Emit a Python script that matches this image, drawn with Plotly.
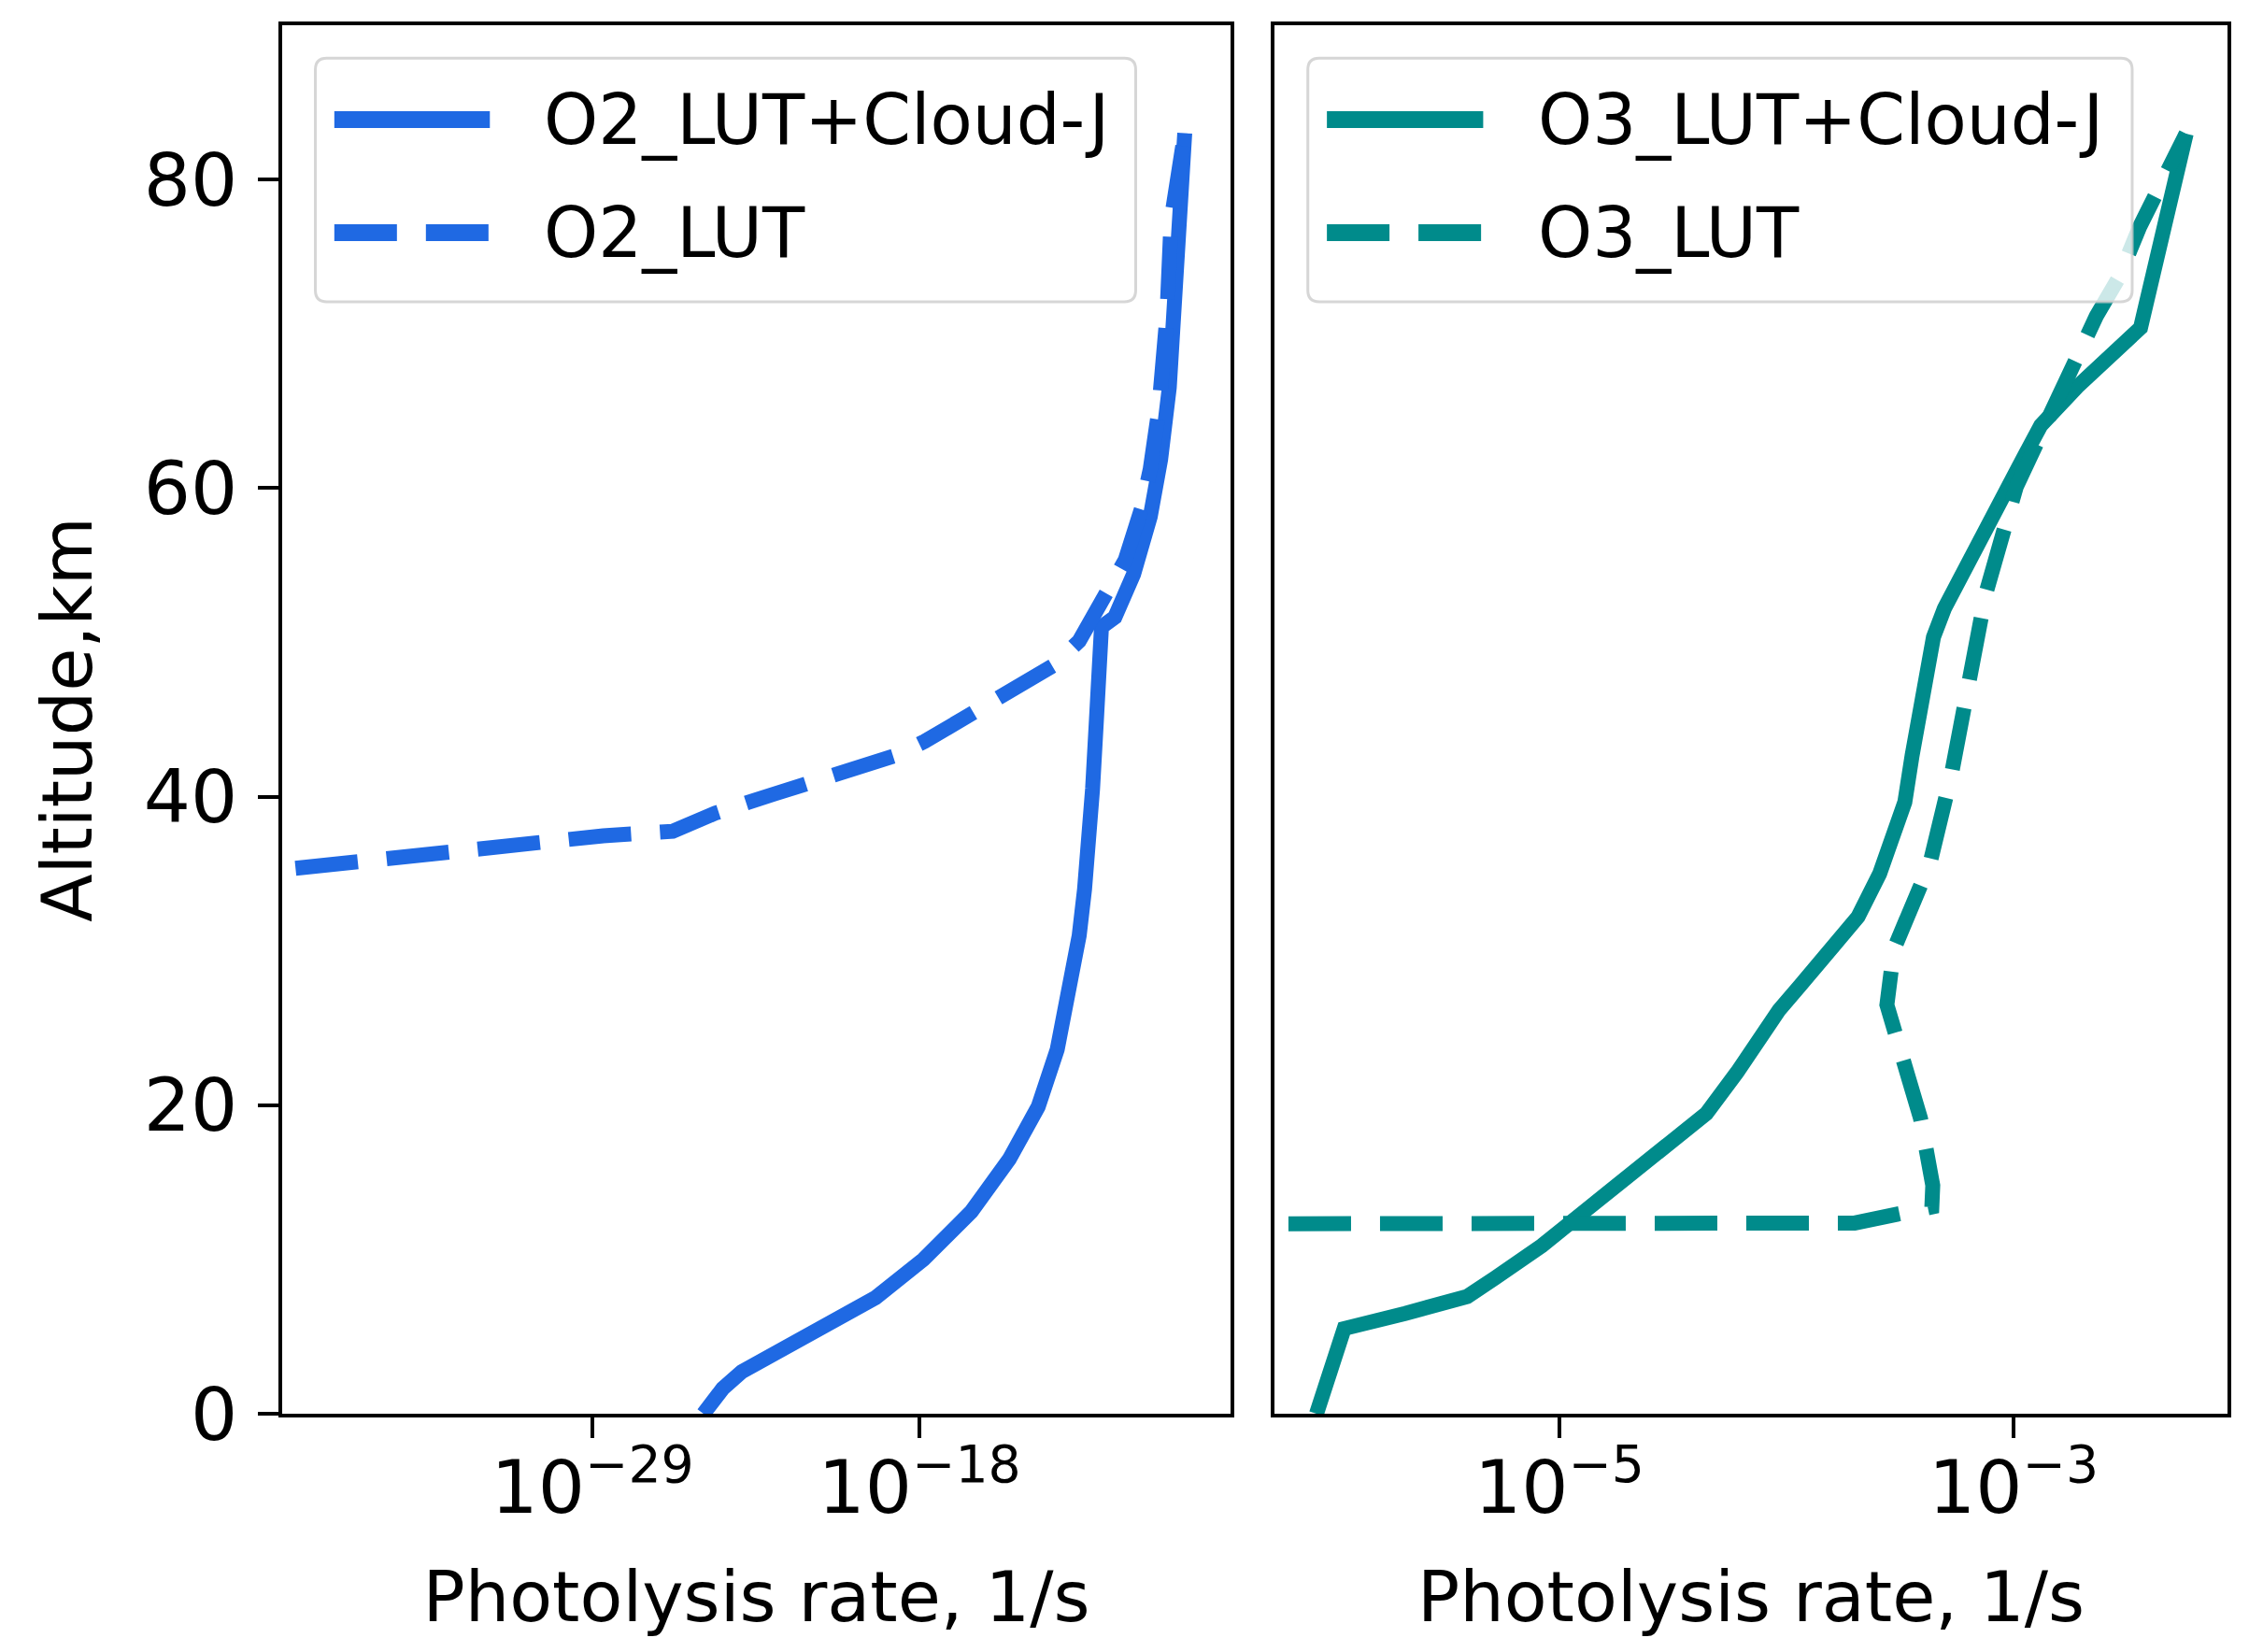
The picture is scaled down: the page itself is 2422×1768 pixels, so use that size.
import plotly.graph_objects as go

# O2 panel (log10 of rate, altitude in km)
o2_cloudj_log = [-25.27, -24.95, -24.62, -23.98, -22.69, -21.08, -19.48, -17.87, -16.26,
                 -14.98, -14.01, -13.37, -12.89, -12.63, -12.45, -12.30, -12.18, -12.05,
                 -11.88, -11.43, -10.80, -10.24, -9.89, -9.60, -9.39, -9.25, -9.08]
o2_cloudj_alt = [0.0, 0.9, 1.63, 2.72, 4.1, 5.66, 7.52, 10.0, 13.1,
                 16.5, 19.9, 23.6, 28.3, 31.0, 34.0, 37.0, 40.5, 45.0,
                 51.0, 51.63, 54.42, 58.14, 61.86, 66.51, 72.08, 77.35, 83.0]

o2_lut_log = [-38.99, -38.04, -34.79, -31.71, -28.64, -26.3, -24.87, -22.89, -20.92,
              -18.82, -17.83, -16.14, -15.02, -13.47, -12.63, -11.64, -11.08, -10.52,
              -10.24, -9.96, -9.68, -9.54, -9.08]
o2_lut_alt = [35.35, 35.55, 36.24, 36.77, 37.46, 37.75, 38.93, 40.17, 41.41,
              42.65, 43.58, 45.44, 46.68, 48.53, 50.09, 53.18, 55.35, 58.76,
              61.24, 64.95, 71.15, 77.35, 83.0]

# O3 panel
o3_cloudj_log = [-6.07, -5.948, -5.68, -5.406, -5.283, -5.077, -4.90, -4.596, -4.353,
                 -4.218, -4.033, -3.938, -3.811, -3.685, -3.590, -3.527, -3.479, -3.447,
                 -3.416, -3.384, -3.353, -3.305, -3.210, -3.084, -2.957, -2.880, -2.720,
                 -2.441, -2.240]
o3_cloudj_alt = [0.0, 5.52, 6.5, 7.6, 8.8, 10.9, 13.0, 16.47, 19.46,
                 22.13, 26.16, 27.79, 29.88, 32.21, 35.0, 37.32, 39.64, 42.66,
                 45.69, 48.01, 50.33, 52.19, 54.98, 58.47, 61.95, 64.07, 66.56,
                 70.39, 82.97]

o3_lut_log = [-7.0, -3.70, -3.36, -3.356, -3.41, -3.49, -3.558, -3.527, -3.368,
              -3.273, -3.202, -3.123, -2.988, -2.862, -2.749, -2.636, -2.537, -2.443,
              -2.240]
o3_lut_alt = [12.3, 12.36, 13.4, 14.8, 19.15, 23.6, 26.5, 30.12, 35.69,
              41.5, 47.54, 53.12, 60.09, 64.07, 67.81, 71.13, 73.63, 76.99,
              82.97]

yticks = [0, 20, 40, 60, 80]
o2_xticks = [1e-29, 1e-18]
o2_xticktext = ["10<sup>\u221229</sup>", "10<sup>\u221218</sup>"]
o3_xticks = [1e-5, 1e-3]
o3_xticktext = ["10<sup>\u22125</sup>", "10<sup>\u22123</sup>"]

BLUE = "#1f69e3"
TEAL = "#008b8b"
LW = 16
DASH = "67px,31px"
FONT = "DejaVu Sans"
TICK_FS = 79
TITLE_FS = 75
LEG_FS = 74


def rates(logs):
    return [10.0 ** v for v in logs]


fig = go.Figure()
fig.add_trace(go.Scatter(x=rates(o2_cloudj_log), y=o2_cloudj_alt, mode="lines",
                         line=dict(color=BLUE, width=LW), name="O2_LUT+Cloud-J",
                         xaxis="x", yaxis="y"))
fig.add_trace(go.Scatter(x=rates(o2_lut_log), y=o2_lut_alt, mode="lines",
                         line=dict(color=BLUE, width=LW, dash=DASH), name="O2_LUT",
                         xaxis="x", yaxis="y"))
fig.add_trace(go.Scatter(x=rates(o3_cloudj_log), y=o3_cloudj_alt, mode="lines",
                         line=dict(color=TEAL, width=LW), name="O3_LUT+Cloud-J",
                         xaxis="x2", yaxis="y2"))
fig.add_trace(go.Scatter(x=rates(o3_lut_log), y=o3_lut_alt, mode="lines",
                         line=dict(color=TEAL, width=LW, dash=DASH), name="O3_LUT",
                         xaxis="x2", yaxis="y2"))

axis_common = dict(showline=True, mirror=True, linecolor="black", linewidth=4,
                   ticklen=22, tickwidth=4, tickcolor="black",
                   showgrid=False, zeroline=False,
                   tickfont=dict(family=FONT, size=TICK_FS, color="black"))

xtitle = dict(text="Photolysis rate, 1/s", standoff=47,
              font=dict(family=FONT, size=TITLE_FS, color="black"))

# page body has an 8px margin, so the figure is a bit smaller than the window
fig.update_layout(
    width=2406, height=1752,
    margin=dict(l=294, r=30, t=19, b=247),
    paper_bgcolor="white", plot_bgcolor="white",
    showlegend=False,
    font=dict(family=FONT, size=TITLE_FS, color="black"),
    xaxis=dict(domain=[0, 0.4875], type="log", range=[-39.44, -7.54],
               tickvals=o2_xticks, ticktext=o2_xticktext, ticks="outside",
               ticklabelstandoff=-15, title=xtitle, anchor="y", **axis_common),
    xaxis2=dict(domain=[0.5101, 1], type="log", range=[-6.255, -2.058],
                tickvals=o3_xticks, ticktext=o3_xticktext, ticks="outside",
                ticklabelstandoff=-15, title=xtitle, anchor="y2", **axis_common),
    yaxis=dict(range=[0, 90], tickvals=yticks, anchor="x", ticks="outside",
               ticklabelstandoff=6,
               title=dict(text="Altitude,km", standoff=31,
                          font=dict(family=FONT, size=TITLE_FS, color="black")),
               **axis_common),
    yaxis2=dict(range=[0, 90], matches="y", anchor="x2", ticks="",
                showticklabels=False, **axis_common),
)


# matplotlib-style legend boxes (one per panel)
def legend_box(xr, yr, labels, color):
    x0, x1, y0, y1 = 0.035, 0.90, 0.8008, 0.9762
    rx, ry = 0.012, 0.0082
    path = (f"M{x0 + rx},{y0} L{x1 - rx},{y0} Q{x1},{y0} {x1},{y0 + ry} "
            f"L{x1},{y1 - ry} Q{x1},{y1} {x1 - rx},{y1} L{x0 + rx},{y1} "
            f"Q{x0},{y1} {x0},{y1 - ry} L{x0},{y0 + ry} Q{x0},{y0} {x0 + rx},{y0} Z")
    fig.add_shape(type="path", path=path, xref=xr, yref=yr,
                  fillcolor="rgba(255,255,255,0.8)",
                  line=dict(color="rgba(204,204,204,0.8)", width=3), layer="above")
    rows = [0.932, 0.8506]
    dashes = ["solid", DASH]
    for lab, yy, d in zip(labels, rows, dashes):
        fig.add_shape(type="line", xref=xr, yref=yr, x0=0.055, x1=0.219, y0=yy, y1=yy,
                      line=dict(color=color, width=LW + 2, dash=d), layer="above")
        fig.add_annotation(text=lab, xref=xr, yref=yr, x=0.274, y=yy,
                           xanchor="left", yanchor="middle", showarrow=False,
                           font=dict(family=FONT, size=LEG_FS, color="black"))


legend_box("x domain", "y domain", ["O2_LUT+Cloud-J", "O2_LUT"], BLUE)
legend_box("x2 domain", "y2 domain", ["O3_LUT+Cloud-J", "O3_LUT"], TEAL)

fig.write_html("out.html")
